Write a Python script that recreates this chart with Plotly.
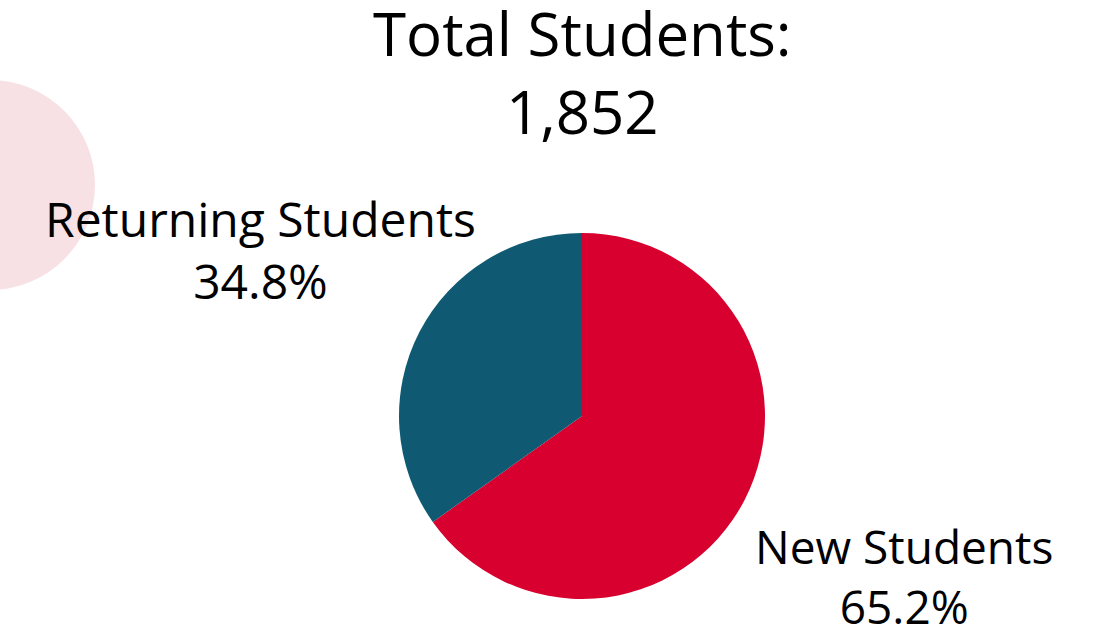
import math
import plotly.graph_objects as go

# Enrollment split
labels = ["New Students", "Returning Students"]
counts = [1207, 645]
colors = ["#d7002f", "#0f5a72"]
label_sizes = [46, 48]
label_yshift = [6, 0]

W, H = 1098, 632
cx, cy, r = 582, 416, 183  # pie centre / radius in px
label_dist = 1.98 * r       # distance of slice labels from the centre

total = sum(counts)

fig = go.Figure(
    go.Pie(
        labels=labels,
        values=counts,
        sort=False,
        direction="clockwise",
        rotation=0,
        marker=dict(colors=colors, line=dict(width=0)),
        textinfo="none",
        showlegend=False,
        domain=dict(
            x=[(cx - r) / W, (cx + r) / W],
            y=[1 - (cy + r) / H, 1 - (cy - r) / H],
        ),
        hoverinfo="label+percent",
    )
)

# Slice labels placed along each slice's mid-angle (clockwise from 12 o'clock)
annotations = []
start = 0.0
for lab, val, size, dy in zip(labels, counts, label_sizes, label_yshift):
    frac = val / total
    mid = (start + frac / 2) * 2 * math.pi
    start += frac
    px = cx + label_dist * math.sin(mid)
    py = cy - label_dist * math.cos(mid)
    annotations.append(
        dict(
            text=f"{lab}<br>{frac:.1%}",
            xref="paper", yref="paper",
            x=px / W, y=1 - py / H,
            xanchor="center", yanchor="middle",
            yshift=dy,
            showarrow=False,
            font=dict(family="Open Sans", size=size, color="#000000"),
        )
    )

annotations.append(
    dict(
        text=f"Total Students:<br>{total:,}",
        xref="paper", yref="paper",
        x=cx / W, y=1 + 10 / H,
        xanchor="center", yanchor="top",
        showarrow=False,
        font=dict(family="Open Sans", size=60, color="#000000"),
    )
)

fig.update_layout(
    width=W,
    height=H,
    margin=dict(l=0, r=0, t=0, b=0),
    paper_bgcolor="#ffffff",
    plot_bgcolor="#ffffff",
    font=dict(family="Open Sans", color="#000000"),
    shapes=[
        dict(
            type="circle",
            xref="paper", yref="paper",
            x0=-115 / W, x1=95 / W,
            y0=1 - 290 / H, y1=1 - 80 / H,
            fillcolor="#f8e1e5",
            line=dict(width=0),
            layer="below",
        )
    ],
    annotations=annotations,
)

fig.write_html("out.html")
